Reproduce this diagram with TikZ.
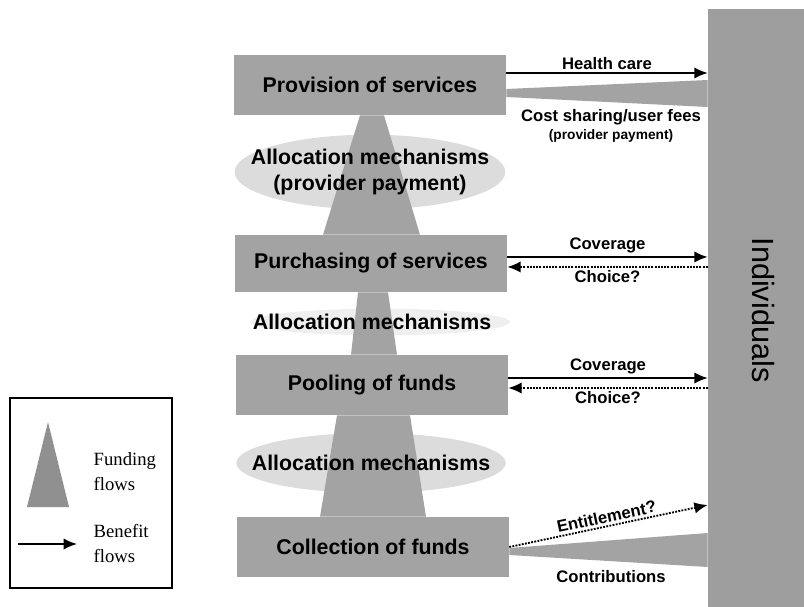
\documentclass[tikz,border=0pt]{standalone}
\usepackage{fontspec}
\setmainfont{Liberation Sans}
\newfontfamily\legendfont{Liberation Serif}
\usetikzlibrary{arrows.meta,shapes.geometric,calc}
\definecolor{boxgray}{HTML}{A3A3A3}
\definecolor{bargray}{HTML}{9E9E9E}
\definecolor{ellgray}{HTML}{DCDCDC}
\definecolor{ellfaint}{HTML}{EFEFEF}
\definecolor{leggray}{HTML}{909090}
\pgfdeclarelayer{ellipselayer}
\pgfdeclarelayer{flowlayer}
\pgfsetlayers{ellipselayer,flowlayer,main}
\begin{document}
\begin{tikzpicture}[x=0.75pt,y=-0.75pt,
  stage/.style={rectangle, fill=boxgray, inner sep=0pt, minimum width=204pt, minimum height=45pt,
    font=\bfseries\fontsize{16}{19}\selectfont},
  bar/.style={rectangle, fill=bargray, inner sep=0pt},
  fund/.style={fill=boxgray},
  ellshape/.style={ellipse, inner sep=0pt},
  midtext/.style={align=center, font=\bfseries\fontsize{16}{19.5}\selectfont},
  lbl/.style={font=\bfseries\fontsize{12.5}{14}\selectfont, inner sep=2pt},
  smalllbl/.style={font=\bfseries\fontsize{10.3}{12}\selectfont, inner sep=1pt},
  benefit/.style={line width=1.4pt, -{Latex[length=10pt,width=8.5pt]}},
  dotflow/.style={line width=1.4pt, densely dotted, -{Latex[length=10pt,width=8.5pt]}},
  legtext/.style={align=left, anchor=west, font=\legendfont\fontsize{14}{18.75}\selectfont}
]
\useasboundingbox (0,0) rectangle (804,607);

% ellipses (bottom layer)
\begin{pgfonlayer}{ellipselayer}
\node[ellshape, fill=ellgray, minimum width=203pt, minimum height=56pt] (e1) at (370,172) {};
\node[ellshape, fill=ellfaint, minimum width=195pt, minimum height=20pt] (e2) at (380,322) {};
\node[ellshape, fill=ellgray, minimum width=202pt, minimum height=45pt] (e3) at (371,463) {};
\end{pgfonlayer}

% stage boxes
\node[stage] (prov) at (370,85) {Provision of services};
\node[stage, minimum height=42.75pt] (purch) at (371,263.5) {Purchasing of services};
\node[stage] (pool) at (372,385) {Pooling of funds};
\node[stage] (coll) at (373,547) {Collection of funds};

% individuals bar
\node[bar, minimum width=72pt, minimum height=448.5pt] (ind) at (756,308) {};
\node[rotate=-90, font=\fontsize{23}{27}\selectfont] (indtext) at ($(ind.center)+(7,2)$) {Individuals};

% funding flows between stages
\begin{pgfonlayer}{flowlayer}
\fill[fund] ($(purch.north)+(-48,0)$) -- ($(purch.north)+(49,0)$) -- ($(prov.south)+(14,0)$) -- ($(prov.south)+(-10,0)$) -- cycle;
\fill[fund] ($(pool.north)+(-21,0)$) -- ($(pool.north)+(25,0)$) -- ($(purch.south)+(17,0)$) -- ($(purch.south)+(-13,0)$) -- cycle;
\fill[fund] ($(coll.north)+(-53,0)$) -- ($(coll.north)+(53,0)$) -- ($(pool.south)+(38,0)$) -- ($(pool.south)+(-35,0)$) -- cycle;
\end{pgfonlayer}

% ellipse texts
\node[midtext] (t1) at (e1) {Allocation mechanisms\\(provider payment)};
\node[midtext] (t2) at (372,322) {Allocation mechanisms};
\node[midtext] (t3) at (e3) {Allocation mechanisms};

% provision <-> individuals
\draw[benefit] ([yshift=9pt]prov.east) -- ([yshift=9pt]prov.east -| ind.west)
  node[midway, above, lbl] {Health care};
\fill[fund] ([yshift=-3pt]prov.east) -- ([yshift=3.75pt]prov.east -| ind.west)
  -- ([yshift=-16.5pt]prov.east -| ind.west) -- ([yshift=-9pt]prov.east) -- cycle;
\node[lbl] (cost1) at (611,117) {Cost sharing/user fees};
\node[smalllbl] (cost2) at (611,136) {(provider payment)};

% purchasing <-> individuals
\draw[benefit] ([yshift=4.9pt]purch.east) -- ([yshift=4.9pt]purch.east -| ind.west)
  node[midway, above, lbl] {Coverage};
\draw[dotflow] ([yshift=-2.6pt]purch.east -| ind.west) -- ([yshift=-2.6pt]purch.east)
  node[midway, below, lbl] {Choice?};

% pooling <-> individuals
\draw[benefit] ([yshift=5.25pt]pool.east) -- ([yshift=5.25pt]pool.east -| ind.west)
  node[midway, above, lbl] {Coverage};
\draw[dotflow] ([yshift=-2.25pt]pool.east -| ind.west) -- ([yshift=-2.25pt]pool.east)
  node[midway, below, lbl] {Choice?};

% collection <-> individuals
\draw[dotflow] (coll.east) -- ([yshift=31.5pt]coll.east -| ind.west)
  node[midway, above, sloped, lbl] {Entitlement?};
\fill[fund] ([yshift=-0.75pt]coll.east) -- ([yshift=10.5pt]coll.east -| ind.west)
  -- ([yshift=-15pt]coll.east -| ind.west) -- ([yshift=-6pt]coll.east) -- cycle;
\node[lbl] (contrib) at (611,577) {Contributions};

% legend
\node[draw, line width=1.2pt, minimum width=121.5pt, minimum height=142.5pt, inner sep=0pt] (legend) at (91,493) {};
\fill[leggray] (48,422) -- (69,507) -- (27,507) -- cycle;
\node[legtext] (legf) at (89,472) {Funding\\flows};
\coordinate (lega) at (18,544);
\coordinate (legb) at (77,544);
\draw[benefit] (lega) -- (legb);
\node[legtext] (legbt) at (89,544) {Benefit\\flows};
\end{tikzpicture}
\end{document}
